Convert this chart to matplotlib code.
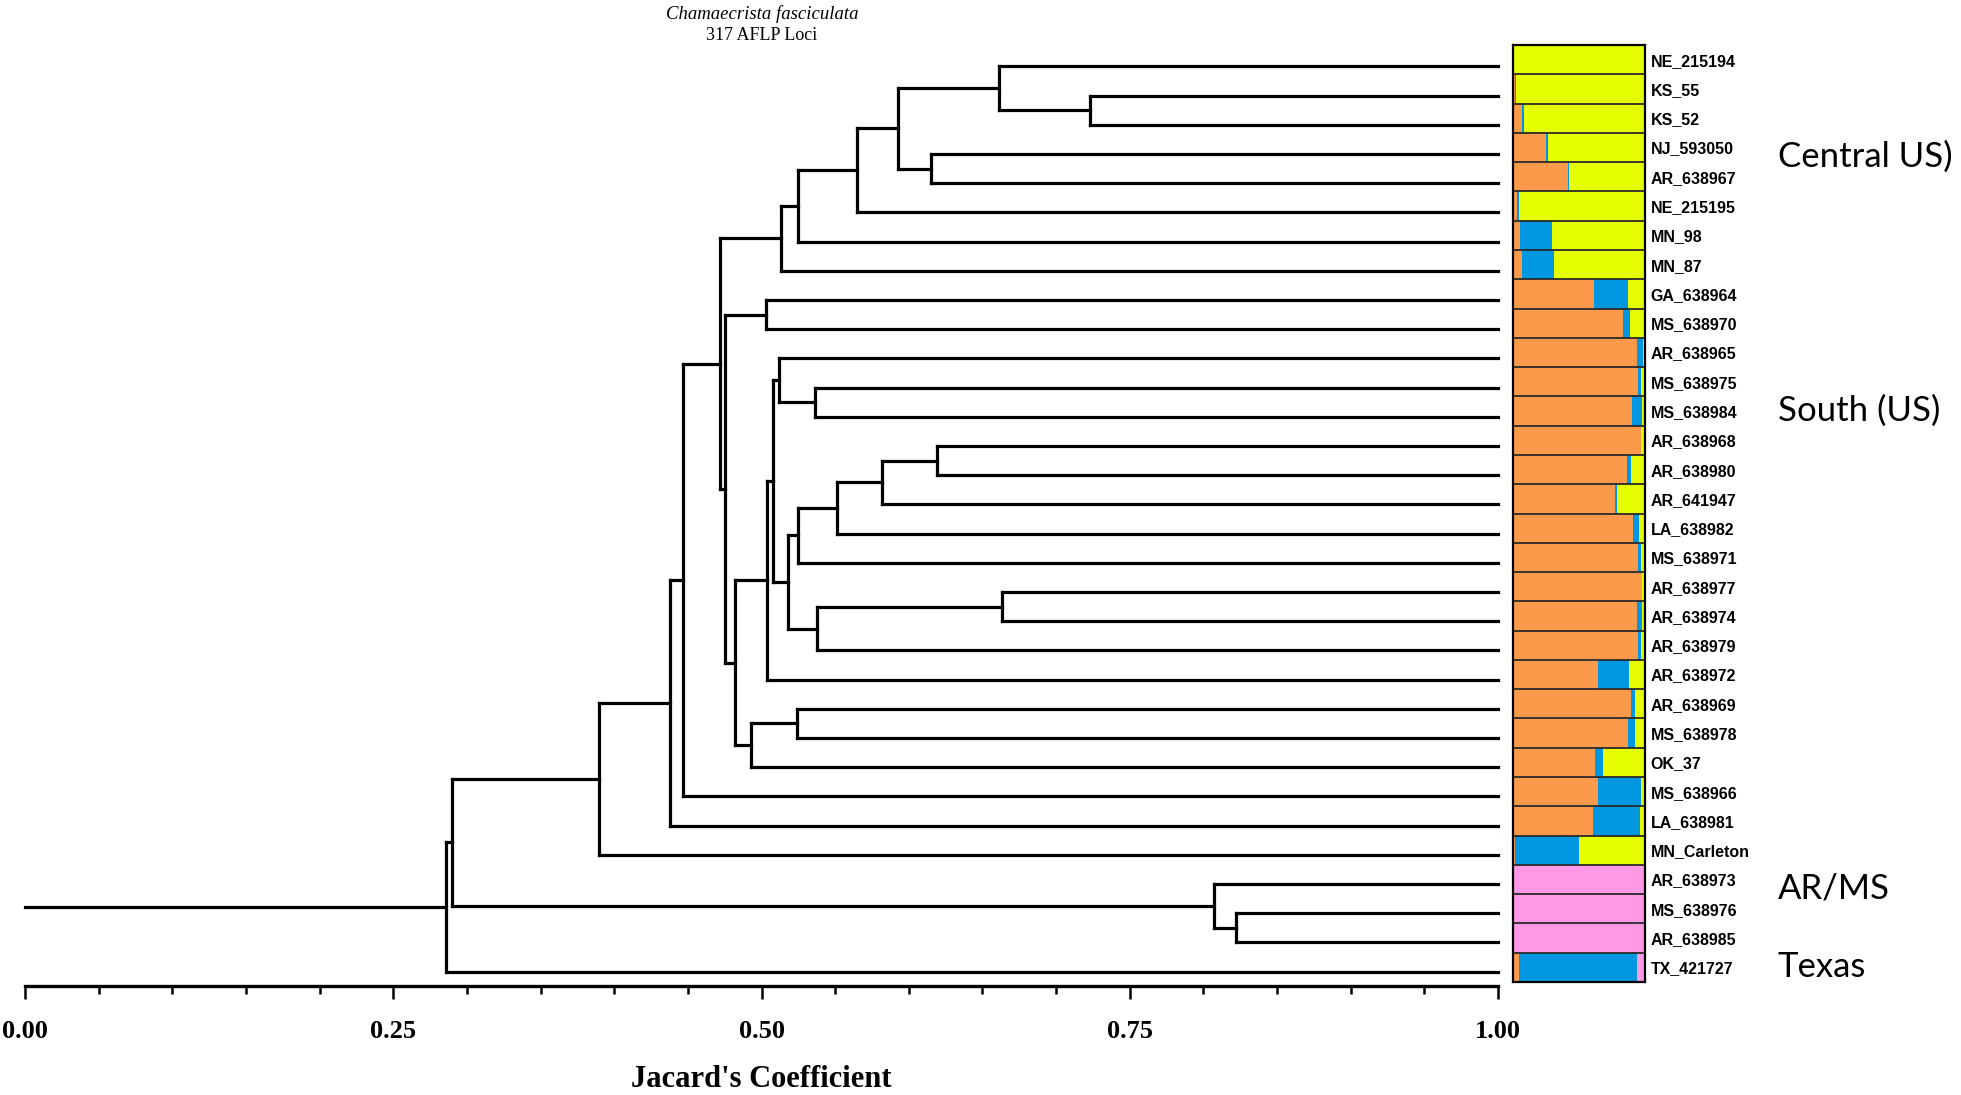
import matplotlib
matplotlib.use("Agg")
import matplotlib.pyplot as plt
from matplotlib.ticker import MultipleLocator
from matplotlib.transforms import blended_transform_factory

# leaf order, top to bottom
samples = [
    "NE_215194", "KS_55", "KS_52", "NJ_593050", "AR_638967", "NE_215195",
    "MN_98", "MN_87", "GA_638964", "MS_638970", "AR_638965", "MS_638975",
    "MS_638984", "AR_638968", "AR_638980", "AR_641947", "LA_638982",
    "MS_638971", "AR_638977", "AR_638974", "AR_638979", "AR_638972",
    "AR_638969", "MS_638978", "OK_37", "MS_638966", "LA_638981",
    "MN_Carleton", "AR_638973", "MS_638976", "AR_638985", "TX_421727",
]

# STRUCTURE membership per sample (orange, blue, yellow, pink)
orange = [.003, .015, .068, .253, .413, .030, .056, .071, .613, .835, .942,
          .949, .899, .967, .866, .772, .911, .949, .975, .937, .944, .643,
          .896, .873, .618, .646, .608, .018, .005, .005, .005, .043]
blue = [0, .008, .015, .015, .012, .015, .243, .240, .261, .051, .040,
        .018, .076, .005, .028, .018, .040, .023, .005, .038, .023, .235,
        .025, .051, .066, .327, .354, .481, 0, 0, 0, .896]
yellow = [.994, .977, .917, .732, .575, .955, .696, .689, .126, .114, .018,
          .025, .025, .020, .106, .210, .049, .028, .012, .025, .025, .122,
          .079, .076, .316, .027, .038, .501, 0, 0, 0, 0]
pink = [.003, 0, 0, 0, 0, 0, .005, 0, 0, 0, 0,
        .008, 0, .008, 0, 0, 0, 0, .008, 0, .008, 0,
        0, 0, 0, 0, 0, 0, .995, .995, .995, .061]

# merges: (node, left child, right child, Jaccard similarity)
merges = [
    ("ks", "KS_55", "KS_52", 0.723),
    ("ne", "NE_215194", "ks", 0.661),
    ("nj", "NJ_593050", "AR_638967", 0.615),
    ("c1", "ne", "nj", 0.593),
    ("c2", "c1", "NE_215195", 0.565),
    ("c3", "c2", "MN_98", 0.525),
    ("c4", "c3", "MN_87", 0.513),
    ("ga", "GA_638964", "MS_638970", 0.503),
    ("s11", "MS_638975", "MS_638984", 0.536),
    ("s10", "AR_638965", "s11", 0.512),
    ("s13", "AR_638968", "AR_638980", 0.619),
    ("s15", "s13", "AR_641947", 0.582),
    ("s16", "s15", "LA_638982", 0.551),
    ("s17", "s16", "MS_638971", 0.525),
    ("s18", "AR_638977", "AR_638974", 0.663),
    ("s20", "s18", "AR_638979", 0.538),
    ("r", "s17", "s20", 0.518),
    ("p", "s10", "r", 0.508),
    ("q", "p", "AR_638972", 0.504),
    ("s22", "AR_638969", "MS_638978", 0.524),
    ("s24", "s22", "OK_37", 0.493),
    ("s25", "q", "s24", 0.482),
    ("x", "ga", "s25", 0.475),
    ("y", "c4", "x", 0.472),
    ("m25", "y", "MS_638966", 0.447),
    ("m26", "m25", "LA_638981", 0.438),
    ("m27", "m26", "MN_Carleton", 0.390),
    ("a29", "MS_638976", "AR_638985", 0.822),
    ("a28", "AR_638973", "a29", 0.807),
    ("b", "m27", "a28", 0.290),
    ("root", "b", "TX_421727", 0.286),
]

group_names = ["Central US)", "South (US)", "AR/MS", "Texas"]
group_rows = [3.3, 12.0, 28.3, 31.0]

colors = ["#FC9A4C", "#0096E0", "#E6FF00", "#FF99E6"]

W, H = 1961, 1095


def draw_dendrogram(ax):
    ypos = {name: i for i, name in enumerate(samples)}
    xpos = {name: 1.0 for name in samples}
    style = dict(color="black", lw=2.3, clip_on=False)
    for node, left, right, h in merges:
        for child in (left, right):
            ax.plot([h, xpos[child]], [ypos[child], ypos[child]], **style)
        ax.plot([h, h], [ypos[left], ypos[right]], **style)
        ypos[node] = (ypos[left] + ypos[right]) / 2
        xpos[node] = h
    root = merges[-1]
    ax.plot([0, root[3]], [ypos[root[0]]] * 2, **style)


fig = plt.figure(figsize=(W / 100, H / 100), dpi=100)

# dendrogram panel
axis_y, first_leaf, last_leaf = 985.5, 66.3, 971.7
ax = fig.add_axes([25 / W, (H - axis_y) / H, 1473 / W, (axis_y - first_leaf) / H])
draw_dendrogram(ax)
step = (last_leaf - first_leaf) / 31
ax.set_ylim(31 + (axis_y - last_leaf) / step, 0)
ax.set_xlim(0, 1)
for side in ["top", "right", "left"]:
    ax.spines[side].set_visible(False)
ax.spines["bottom"].set_linewidth(2.4)
ax.set_yticks([])
ax.xaxis.set_major_locator(MultipleLocator(0.25))
ax.xaxis.set_minor_locator(MultipleLocator(0.05))
ax.tick_params(axis="x", which="major", length=9.5, width=1.8, pad=15)
ax.tick_params(axis="x", which="minor", length=5.5, width=1.8)
ax.set_xticklabels(["%.2f" % v for v in ax.get_xticks()],
                   fontfamily="Liberation Serif", fontweight="bold", fontsize=19)
ax.set_xlabel("Jacard's Coefficient", fontfamily="Liberation Serif",
              fontweight="bold", fontsize=22, labelpad=16)

fig.text(762 / W, 1 - 14 / H, "Chamaecrista fasciculata", ha="center",
         va="center", fontfamily="Liberation Serif", style="italic", fontsize=13.5)
fig.text(762 / W, 1 - 36 / H, "317 AFLP Loci", ha="center", va="center",
         fontfamily="Liberation Serif", fontsize=13)

# structure bar panel
ax2 = fig.add_axes([1513 / W, (H - 982) / H, 132 / W, 937 / H])
rows = list(range(len(samples)))
left = [0.0] * len(samples)
for vals, col in zip([orange, blue, yellow, pink], colors):
    ax2.barh(rows, vals, left=left, height=1.0, color=col, edgecolor="none")
    left = [l + v for l, v in zip(left, vals)]
ax2.hlines([r + 0.5 for r in rows[:-1]], 0, 1, color="#2a2a2a", lw=1.3)
ax2.set_xlim(0, 1)
ax2.set_ylim(len(samples) - 0.5, -0.5)
for s in ax2.spines.values():
    s.set_linewidth(1.6)
ax2.set_xticks([])
ax2.yaxis.tick_right()
ax2.set_yticks(rows)
ax2.set_yticklabels(samples, fontfamily="Liberation Sans", fontweight="bold",
                    fontsize=11.5)
ax2.tick_params(axis="y", length=0, pad=4)

trans = blended_transform_factory(fig.transFigure, ax2.transData)
for name, row in zip(group_names, group_rows):
    ax2.text(1778 / W, row, name, transform=trans, va="center", ha="left",
             fontfamily="Lato", fontsize=25)

fig.savefig("out.png", dpi=100)
